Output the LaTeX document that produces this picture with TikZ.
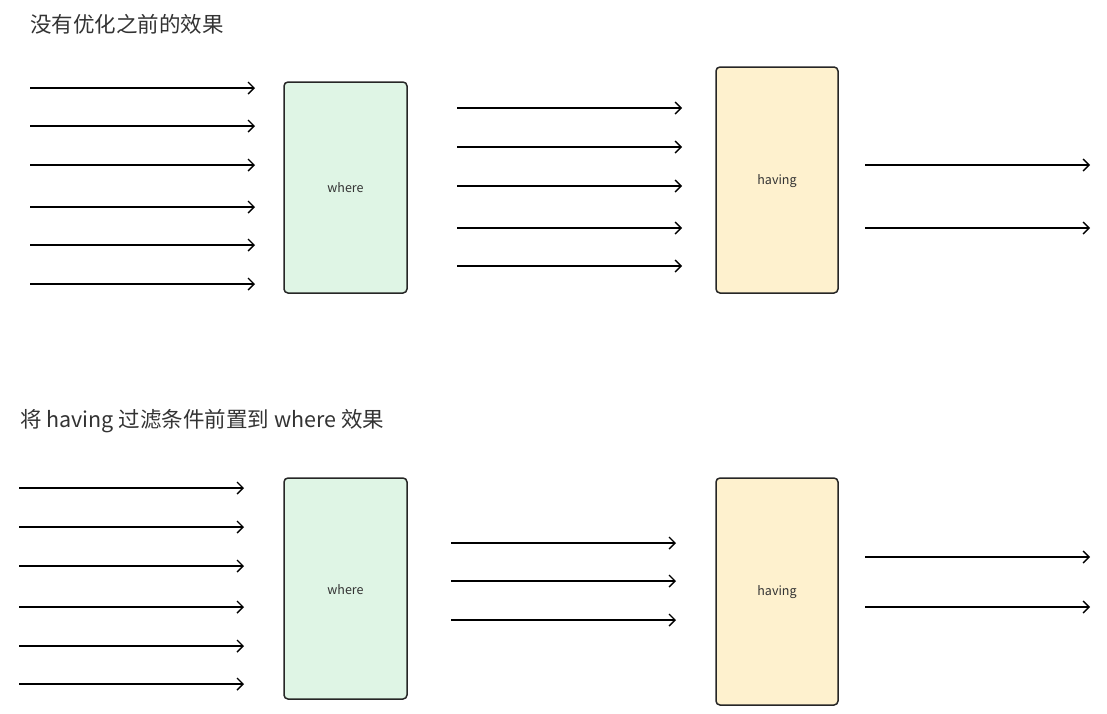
\documentclass[tikz,border=0pt]{standalone}
\usepackage{fontspec}
\setmainfont{Noto Sans CJK SC}
\usetikzlibrary{arrows.meta}
\definecolor{wherefill}{HTML}{DFF5E5}
\definecolor{havingfill}{HTML}{FEF1CE}
\definecolor{txt}{HTML}{333333}
\tikzset{
  flow/.style={line width=1.4pt, -{Straight Barb[length=6pt,width=12pt,line width=1.4pt]}},
  stagebox/.style={draw=black!85, line width=1.5pt, rounded corners=4pt, inner sep=0pt},
  wherebox/.style={stagebox, fill=wherefill},
  havingbox/.style={stagebox, fill=havingfill},
  boxlabel/.style={font=\fontsize{12.5}{14}\selectfont, text=txt},
  title/.style={font=\fontsize{21.5}{25}\selectfont, text=txt, anchor=west, inner sep=0pt}
}
\begin{document}
\begin{tikzpicture}[x=1pt,y=-1pt]
\useasboundingbox (0,0) rectangle (1107,713);
% ---------- top ----------
\node[title] (t1) at (30,24) {没有优化之前的效果};
\draw[wherebox] (284,82) rectangle (407,293);
\node[boxlabel] (w1) at (345.5,188) {where};
\draw[havingbox] (716,67) rectangle (838,293);
\node[boxlabel] (h1) at (777,181) {having};
\foreach \y [count=\i] in {88,126,165,207,245,284}{
  \coordinate (a1s\i) at (30,\y); \coordinate (a1e\i) at (255,\y);
  \draw[flow] (a1s\i) -- (a1e\i);}
\foreach \y [count=\i] in {108,147,186,228,266}{
  \coordinate (b1s\i) at (457,\y); \coordinate (b1e\i) at (682,\y);
  \draw[flow] (b1s\i) -- (b1e\i);}
\foreach \y [count=\i] in {165,228}{
  \coordinate (c1s\i) at (865,\y); \coordinate (c1e\i) at (1090,\y);
  \draw[flow] (c1s\i) -- (c1e\i);}
% ---------- bottom ----------
\node[title] (t2) at (20,421) {将 having 过滤条件前置到 where 效果};
\draw[wherebox] (284,478) rectangle (407,699);
\node[boxlabel] (w2) at (345.5,590) {where};
\draw[havingbox] (716,478) rectangle (838,705);
\node[boxlabel] (h2) at (777,592) {having};
\foreach \y [count=\i] in {488,527,566,607,646,684}{
  \coordinate (a2s\i) at (19,\y); \coordinate (a2e\i) at (244,\y);
  \draw[flow] (a2s\i) -- (a2e\i);}
\foreach \y [count=\i] in {543,581,620}{
  \coordinate (b2s\i) at (451,\y); \coordinate (b2e\i) at (676,\y);
  \draw[flow] (b2s\i) -- (b2e\i);}
\foreach \y [count=\i] in {557,607}{
  \coordinate (c2s\i) at (865,\y); \coordinate (c2e\i) at (1090,\y);
  \draw[flow] (c2s\i) -- (c2e\i);}
\end{tikzpicture}
\end{document}
